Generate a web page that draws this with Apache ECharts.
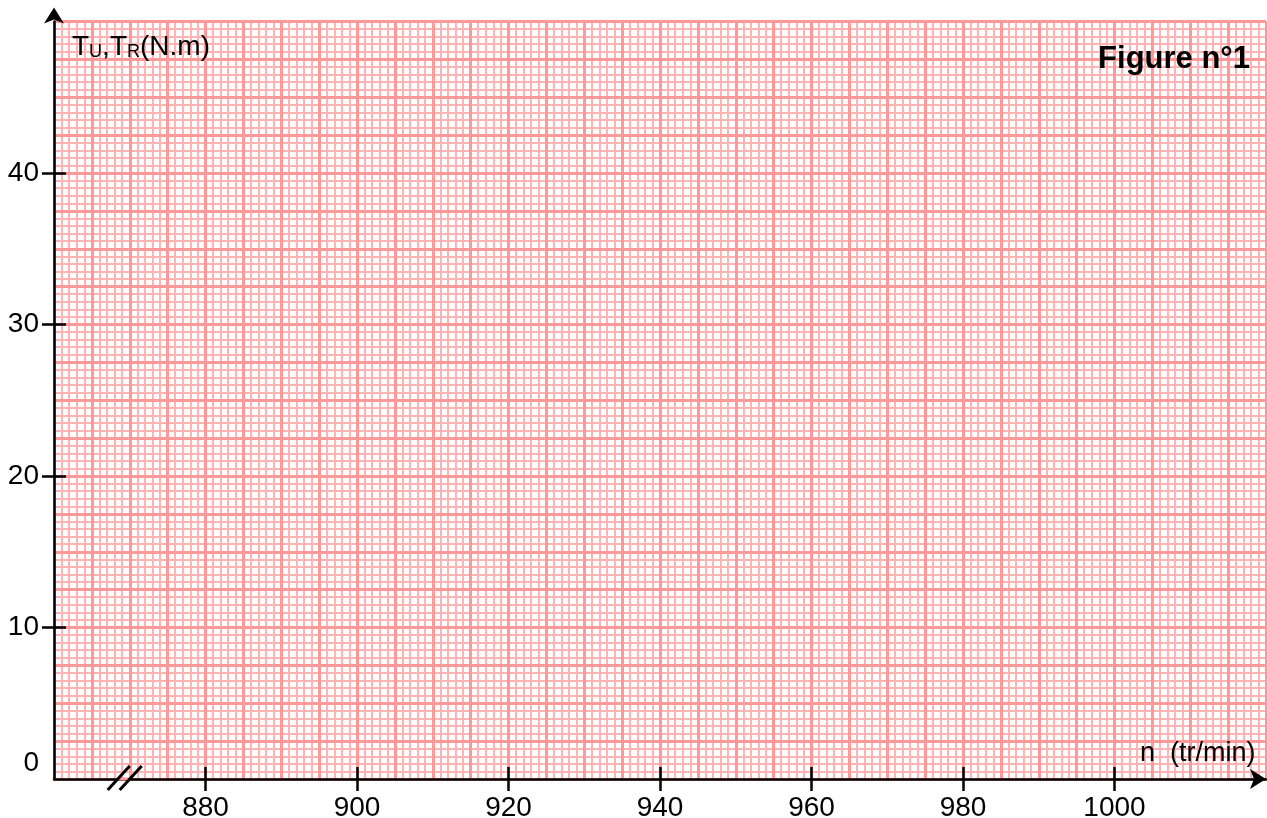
<!DOCTYPE html>
<html>
<head>
<meta charset="utf-8">
<script src="https://cdn.jsdelivr.net/npm/echarts@6/dist/echarts.min.js"></script>
<style>
  html, body { margin: 0; padding: 0; background: #fff; }
  #main { width: 1267px; height: 818px; }
</style>
</head>
<body>
<div id="main"></div>
<script>
// axis ranges of the graph paper
var xRange = [860, 1020];
var yRange = [0, 50];
// graduations
var xTickValues = [880, 900, 920, 940, 960, 980, 1000];
var yTickValues = [10, 20, 30, 40];
var yLabelValues = [0, 10, 20, 30, 40];
// grid steps (fine / thick) for each axis
var xSteps = [1, 5];
var ySteps = [0.5, 2.5];
// where the axis break (//) sits
var xBreakAt = 869.2;

var FONT = 'Liberation Sans, Arial, sans-serif';
var FINE = '#ffb3b3';
var THICK = '#ff9999';

var chartDom = document.getElementById('main');
var myChart = echarts.init(chartDom);

function gridAxis(range, step, color, width, z) {
  return {
    type: 'value', min: range[0], max: range[1], interval: step, z: z,
    axisLine: { show: false }, axisTick: { show: false }, axisLabel: { show: false },
    splitLine: { show: true, lineStyle: { color: color, width: width } }
  };
}

var xMain = {
  type: 'value', min: xRange[0], max: xRange[1], interval: 20, z: 3, position: 'bottom',
  axisLine: { show: true, onZero: false, lineStyle: { color: '#000', width: 2.5 },
    symbol: ['none', 'arrow'], symbolSize: [15, 16], symbolOffset: [0, 0] },
  axisTick: { show: true, length: 12, customValues: xTickValues, lineStyle: { color: '#000', width: 2.5 } },
  axisLabel: { show: true, customValues: xTickValues, margin: 15, color: '#000', fontSize: 28, fontFamily: FONT,
    formatter: function (v) { return String(v); } },
  splitLine: { show: false }
};
var xInside = {
  type: 'value', min: xRange[0], max: xRange[1], interval: 20, z: 3, position: 'bottom',
  axisLine: { show: false },
  axisTick: { show: true, inside: true, length: 12, customValues: xTickValues, lineStyle: { color: '#000', width: 2.5 } },
  axisLabel: { show: false }, splitLine: { show: false }
};
var yMain = {
  type: 'value', min: yRange[0], max: yRange[1], interval: 10, z: 3, position: 'left',
  axisLine: { show: true, onZero: false, lineStyle: { color: '#000', width: 2.5 },
    symbol: ['none', 'arrow'], symbolSize: [15, 16], symbolOffset: [0, 14] },
  axisTick: { show: true, length: 12, customValues: yTickValues, lineStyle: { color: '#000', width: 2.5 } },
  axisLabel: {
    show: true, customValues: yLabelValues, margin: 15, color: '#000', fontSize: 28, fontFamily: FONT,
    formatter: function (v) { return v === 0 ? '{z|0}' : String(v); },
    rich: { z: { fontSize: 28, fontFamily: FONT, color: '#000', padding: [0, 0, 32, 0] } }
  },
  splitLine: { show: false }
};
var yInside = {
  type: 'value', min: yRange[0], max: yRange[1], interval: 10, z: 3, position: 'left',
  axisLine: { show: false },
  axisTick: { show: true, inside: true, length: 12, customValues: yTickValues, lineStyle: { color: '#000', width: 2.5 } },
  axisLabel: { show: false }, splitLine: { show: false }
};

var option = {
  backgroundColor: '#fff',
  animation: false,
  grid: { left: 54, right: 1, top: 21.5, bottom: 39, containLabel: false, outerBoundsMode: 'none' },
  title: [
    {
      left: 72, top: 33, padding: 0,
      text: '{a|T}{b|U}{a|,T}{b|R}{a|(N.m)}',
      textStyle: {
        fontSize: 28, fontWeight: 'normal', fontFamily: FONT, color: '#000',
        rich: {
          a: { fontSize: 28, fontWeight: 'normal', fontFamily: FONT, color: '#000', verticalAlign: 'bottom' },
          b: { fontSize: 18, fontWeight: 'normal', fontFamily: FONT, color: '#000', verticalAlign: 'bottom' }
        }
      }
    },
    {
      right: 17, top: 44, padding: 0, text: 'Figure n°1',
      textStyle: { fontSize: 31, fontWeight: 'bold', fontFamily: FONT, color: '#000' }
    },
    {
      left: 1140, top: 740, padding: 0, text: 'n  (tr/min)',
      textStyle: { fontSize: 27, fontWeight: 'normal', fontFamily: FONT, color: '#000' }
    }
  ],
  xAxis: [
    gridAxis(xRange, xSteps[0], FINE, 2, 0),
    gridAxis(xRange, xSteps[1], THICK, 3, 1),
    xMain,
    xInside
  ],
  yAxis: [
    gridAxis(yRange, ySteps[0], FINE, 2, 0),
    gridAxis(yRange, ySteps[1], THICK, 3, 1),
    yMain,
    yInside
  ],
  series: [
    { type: 'scatter', xAxisIndex: 2, yAxisIndex: 2, data: [] }
  ]
};

option && myChart.setOption(option);

// axis break mark on the x axis
var p = myChart.convertToPixel({ xAxisIndex: 2, yAxisIndex: 2 }, [xBreakAt, yRange[0]]);
myChart.setOption({
  graphic: [
    { type: 'line', z: 100, shape: { x1: p[0] - 6, y1: p[1], x2: p[0] + 6, y2: p[1] },
      style: { stroke: THICK, lineWidth: 3 } },
    { type: 'line', z: 101, shape: { x1: p[0] - 16, y1: p[1] + 11, x2: p[0] + 6, y2: p[1] - 13 },
      style: { stroke: '#000', lineWidth: 3 } },
    { type: 'line', z: 101, shape: { x1: p[0] - 4, y1: p[1] + 11, x2: p[0] + 18, y2: p[1] - 13 },
      style: { stroke: '#000', lineWidth: 3 } }
  ]
});

window.addEventListener('resize', function () {
  myChart.resize();
});
</script>
</body>
</html>
